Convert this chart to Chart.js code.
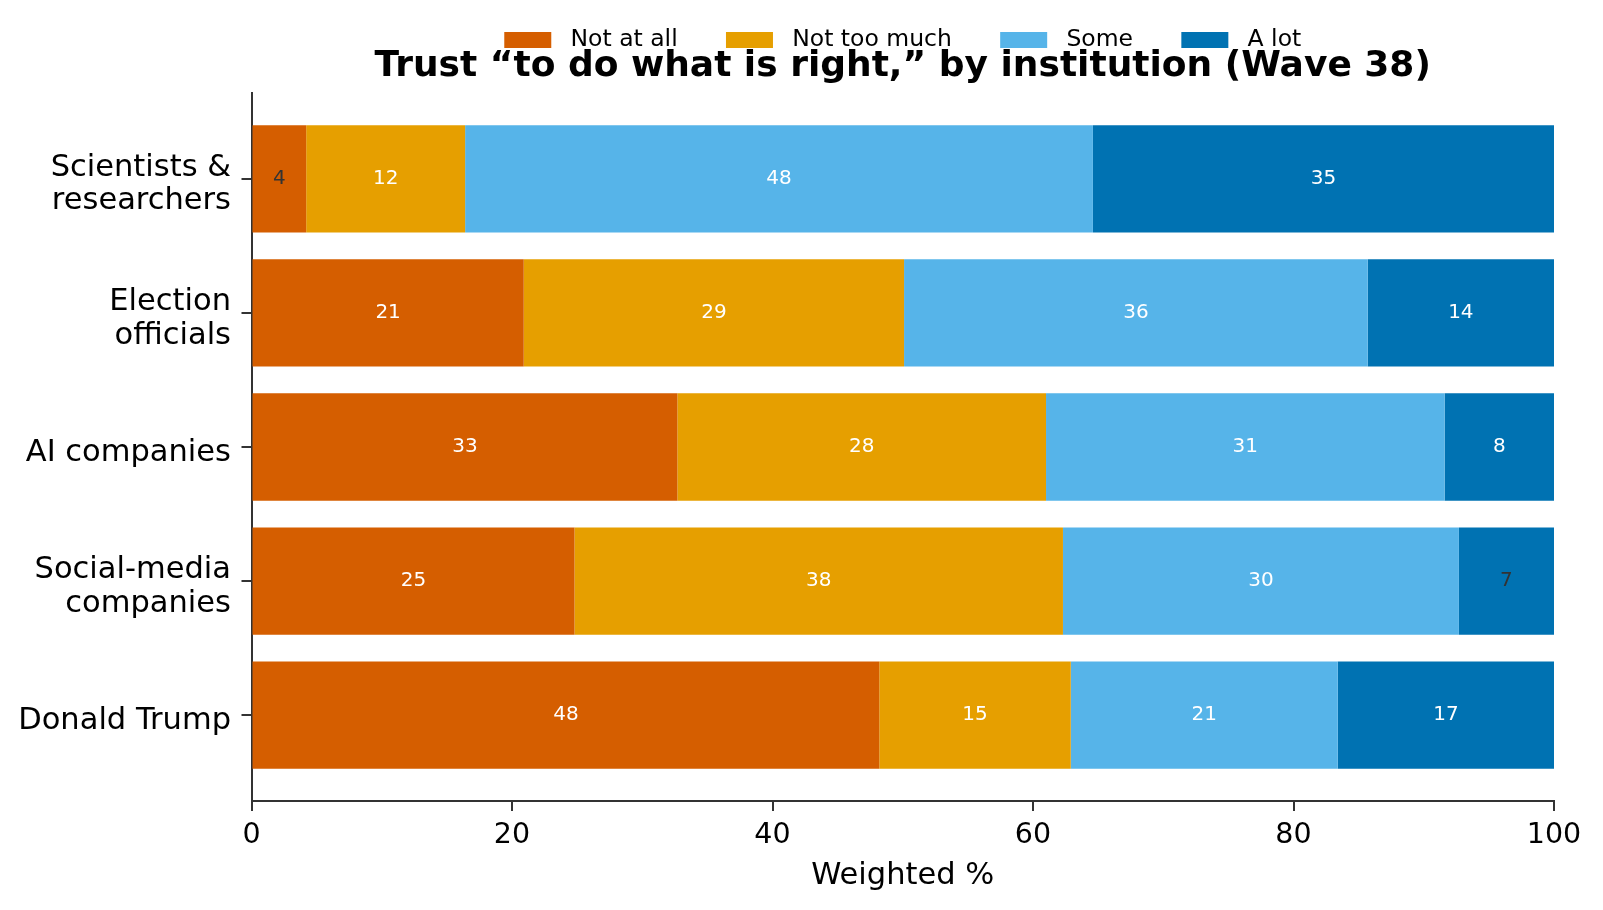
<!DOCTYPE html>
<html>
<head>
<meta charset="utf-8">
<script src="https://cdn.jsdelivr.net/npm/chart.js@4.4.0/dist/chart.umd.min.js"></script>
<style>
  html, body { margin: 0; padding: 0; background: #fff; }
  #wrap { width: 1603px; height: 910px; }
</style>
</head>
<body>
<div id="wrap"><canvas id="trustChart"></canvas></div>
<script>
var institutions = ['Scientists & researchers', 'Election officials', 'AI companies', 'Social-media companies', 'Donald Trump'];
var tickLabels = [['Scientists &', 'researchers'], ['Election', 'officials'], ['AI companies'], ['Social-media', 'companies'], ['Donald Trump']];
var seriesNames = ['Not at all', 'Not too much', 'Some', 'A lot'];
var notAtAll = [4.2, 20.9, 32.7, 24.8, 48.2];
var notTooMuch = [12.2, 29.2, 28.3, 37.5, 14.7];
var some = [48.2, 35.6, 30.6, 30.4, 20.5];
var aLot = [35.4, 14.3, 8.4, 7.3, 16.6];
var xTicks = [0, 20, 40, 60, 80, 100];
var colors = ['#D55E00', '#E69F00', '#56B4E9', '#0072B2'];

Chart.defaults.font.family = '"DejaVu Sans", sans-serif';
Chart.defaults.color = '#000';

function rows(values) {
    return institutions.map(function(name, i) {
        return { x: values[i], y: i };
    });
}

// percentage text in the middle of every segment
var barLabels = {
    id: 'barLabels',
    afterDatasetsDraw: function(chart) {
        var ctx = chart.ctx;
        ctx.save();
        ctx.font = '20px "DejaVu Sans"';
        ctx.textAlign = 'center';
        ctx.textBaseline = 'middle';
        chart.data.datasets.forEach(function(ds, di) {
            chart.getDatasetMeta(di).data.forEach(function(bar, i) {
                var v = ds.data[i].x;
                var p = bar.getCenterPoint();
                ctx.fillStyle = v < 8 ? '#333333' : '#ffffff';
                ctx.fillText(String(Math.round(v)), p.x, p.y);
            });
        });
        ctx.restore();
    }
};

var axisGrid = { offset: false, drawOnChartArea: false, drawTicks: true, tickLength: 10, color: '#333333', lineWidth: 2 };
var axisBorder = { display: true, color: '#333333', width: 2 };

var ctx = document.getElementById('trustChart').getContext('2d');
var myChart = new Chart(ctx, {
    type: 'bar',
    data: {
        datasets: [notAtAll, notTooMuch, some, aLot].map(function(vals, k) {
            return {
                label: seriesNames[k],
                data: rows(vals),
                backgroundColor: colors[k],
                borderWidth: 0,
                categoryPercentage: 1.0,
                barPercentage: 0.8
            };
        })
    },
    options: {
        indexAxis: 'y',
        responsive: true,
        maintainAspectRatio: false,
        animation: false,
        events: [],
        layout: {
            padding: { top: -20, left: 0, right: 49, bottom: 0 }
        },
        plugins: {
            legend: {
                position: 'top',
                fullSize: false,
                weight: 3000,
                labels: {
                    boxWidth: 47,
                    boxHeight: 16,
                    padding: 48.3,
                    color: '#000',
                    font: { size: 23.5 },
                    // a little more room between the swatch and its text
                    generateLabels: function(chart) {
                        var items = Chart.defaults.plugins.legend.labels.generateLabels(chart);
                        items.forEach(function(it) { it.text = ' ' + it.text; });
                        return items;
                    }
                }
            },
            title: {
                display: true,
                text: 'Trust \u201cto do what is right,\u201d by institution (Wave 38)',
                fullSize: false,
                weight: 2000,
                color: '#000',
                font: { size: 36, weight: 'bold' },
                padding: { top: -16.8, bottom: 4.8 }
            },
            tooltip: { enabled: false }
        },
        scales: {
            x: {
                type: 'linear',
                min: 0,
                max: 100,
                stacked: true,
                afterBuildTicks: function(s) { s.ticks = xTicks.map(function(v) { return { value: v }; }); },
                afterFit: function(s) { s.height = 109; },
                grid: axisGrid,
                border: axisBorder,
                ticks: { padding: 7, color: '#000', font: { size: 28.5 } },
                title: {
                    display: true,
                    text: 'Weighted %',
                    color: '#000',
                    font: { size: 30.5 },
                    padding: { top: 0, bottom: 16 }
                }
            },
            y: {
                type: 'linear',
                min: -0.64,
                max: 4.64,
                reverse: true,
                stacked: true,
                offset: false,
                afterBuildTicks: function(s) { s.ticks = institutions.map(function(n, i) { return { value: i }; }); },
                afterFit: function(s) { s.width = 251.5; },
                grid: axisGrid,
                border: axisBorder,
                ticks: {
                    padding: 10.5,
                    labelOffset: 6,
                    color: '#000',
                    font: { size: 30.5, lineHeight: 1.095 },
                    callback: function(v) { return tickLabels[v]; }
                }
            }
        }
    },
    plugins: [barLabels]
});
</script>
</body>
</html>
